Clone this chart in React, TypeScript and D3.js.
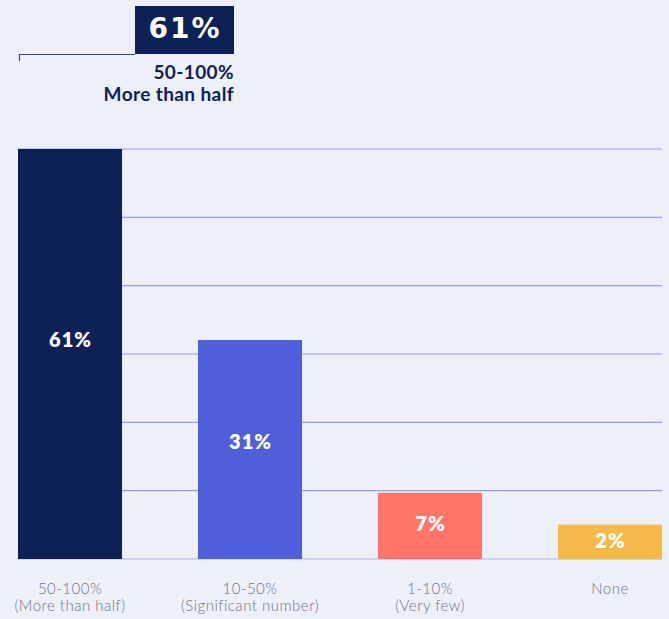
import React from "react";
import * as d3 from "d3";

const categories = ["50-100%", "10-50%", "1-10%", "None"];
const subLabels = ["(More than half)", "(Significant number)", "(Very few)", ""];
const values = [61, 31, 7, 2];
const valueLabels = ["61%", "31%", "7%", "2%"];
const colors = ["#0d2157", "#4f5fd9", "#ff7569", "#f5b84a"];
const gridCount = [0, 1, 2, 3, 4, 5, 6];
const highlightValue = "61%";
const highlightLines = ["50-100%", "More than half"];

const W = 669;
const H = 619;
const FONT = "Lato, 'Open Sans', sans-serif";

export default function App() {
  const x = d3
    .scaleBand<string>()
    .domain(categories)
    .range([18, 662])
    .paddingInner(0.422)
    .paddingOuter(0);
  const y = d3.scaleLinear().domain([-3.4, 61]).range([559, 149]);
  const baseY = 559;
  const grid = d3.scaleLinear().domain([0, 6]).range([559, 149]);

  return (
    <svg
      width={W}
      height={H}
      style={{ position: "absolute", left: 0, top: 0, background: "#edf0f8" }}
      fontFamily={FONT}
    >
      <rect x={0} y={0} width={W} height={H} fill="#edf0f8" />
      {gridCount.map((g) => (
        <line
          key={g}
          x1={18}
          x2={662}
          y1={grid(g)}
          y2={grid(g)}
          stroke={g === 0 ? "#a9b3f2" : "#939eea"}
          strokeWidth={1.2}
        />
      ))}
      {categories.map((c, i) => {
        const top = y(values[i]);
        const h = baseY - top;
        const cx = (x(c) as number) + x.bandwidth() / 2;
        return (
          <g key={c}>
            <rect x={x(c)} y={top} width={x.bandwidth()} height={h} fill={colors[i]} />
            <text
              x={cx + 0.5}
              y={top + h * 0.465}
              dy="0.35em"
              textAnchor="middle"
              fill="#ffffff"
              fontWeight={800}
              fontSize={20}
              letterSpacing={1}
            >
              {valueLabels[i]}
            </text>
            <text
              x={cx}
              y={594}
              textAnchor="middle"
              fill="#6d748b"
              fontWeight={300}
              fontSize={15}
              letterSpacing={0.5}
            >
              {c}
            </text>
            {subLabels[i] && (
              <text
                x={cx}
                y={611}
                textAnchor="middle"
                fill="#6d748b"
                fontWeight={300}
                fontSize={15}
                letterSpacing={0.5}
              >
                {subLabels[i]}
              </text>
            )}
          </g>
        );
      })}
      {/* highlight annotation */}
      <rect x={135} y={6} width={99} height={48} fill="#0d2157" />
      <text
        x={185}
        y={38}
        textAnchor="middle"
        fill="#ffffff"
        fontFamily="'DejaVu Sans', sans-serif"
        fontWeight={700}
        fontSize={28}
        letterSpacing={2}
      >
        {highlightValue}
      </text>
      <path d="M19.5,61 V54.5 H135" fill="none" stroke="#3a4a7a" strokeWidth={1.2} />
      <text x={234} y={79} textAnchor="end" fill="#0d2157" fontWeight={700} fontSize={19} letterSpacing={0.4}>
        {highlightLines[0]}
      </text>
      <text x={234} y={101} textAnchor="end" fill="#0d2157" fontWeight={700} fontSize={19} letterSpacing={0.4}>
        {highlightLines[1]}
      </text>
    </svg>
  );
}
